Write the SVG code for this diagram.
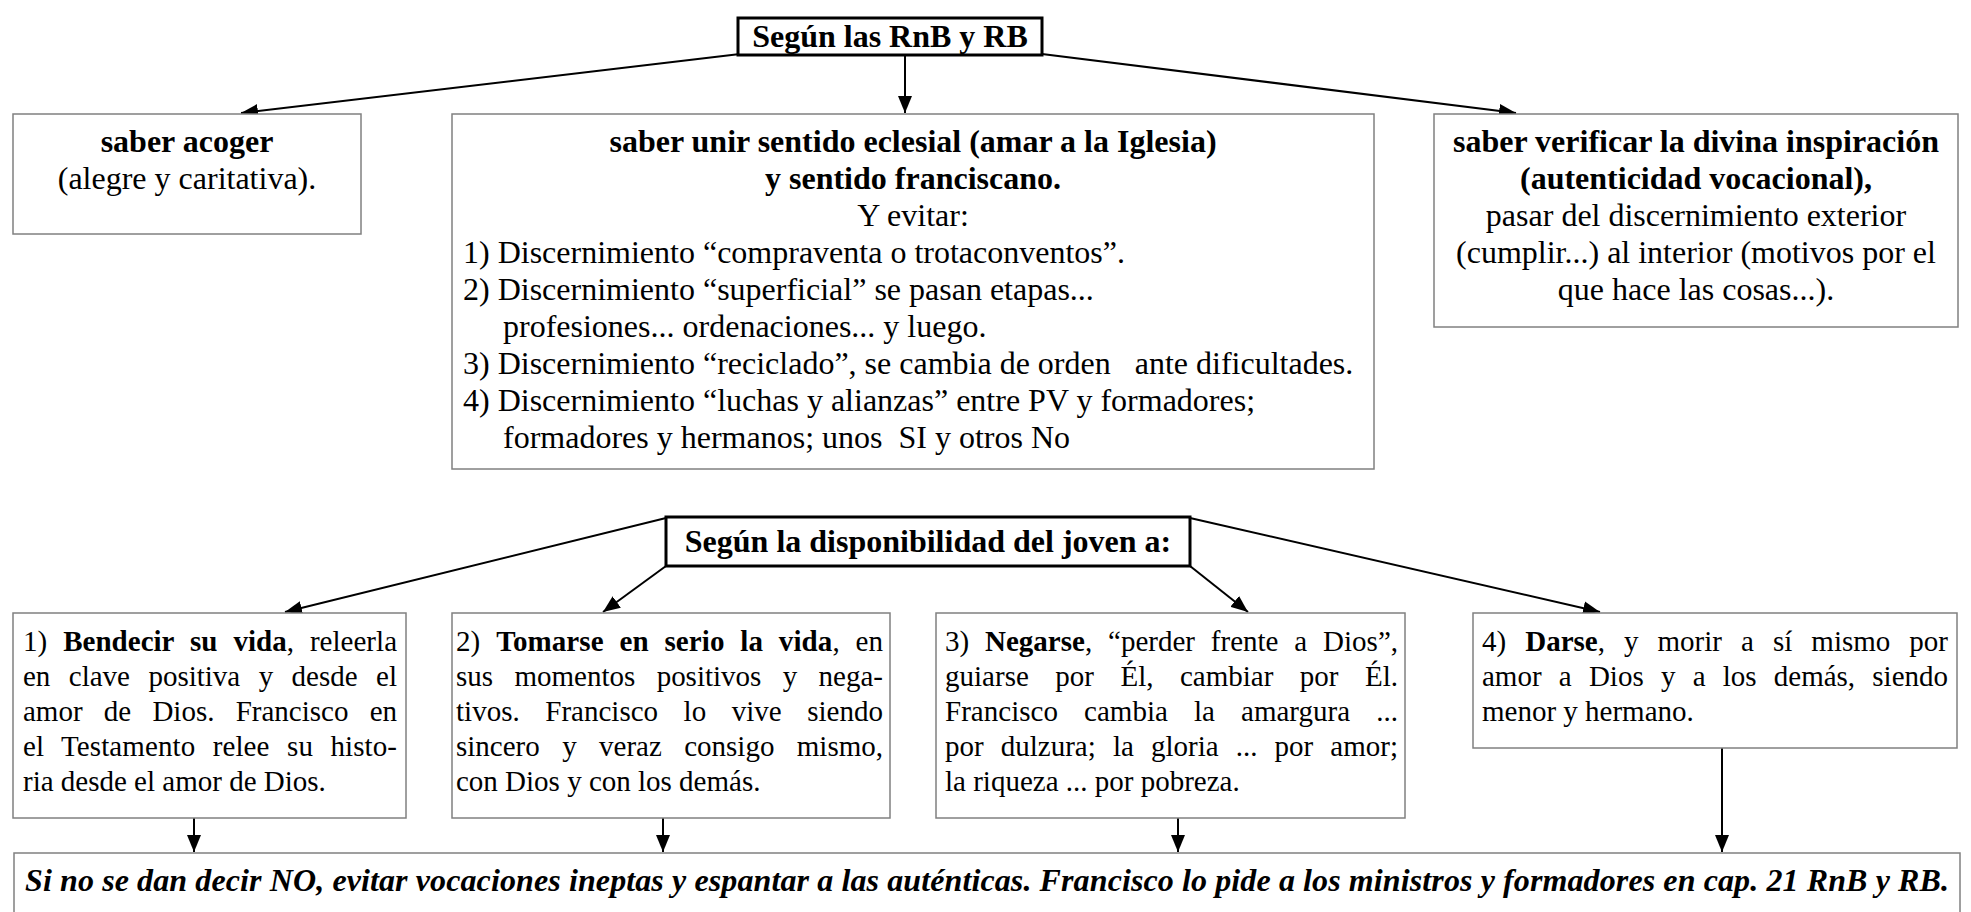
<svg xmlns="http://www.w3.org/2000/svg" width="1971" height="912" viewBox="0 0 1971 912">
<style>
text{font-family:"Liberation Serif","Times New Roman",serif;fill:#000}
.t{font-size:32px}
.s{font-size:29px}
.b{font-weight:bold}
.c{text-anchor:middle}
.box{fill:#fff;stroke:#808080;stroke-width:1.5}
.hbox{fill:#fff;stroke:#000;stroke-width:3}
.ar{stroke:#000;stroke-width:2;fill:none;marker-end:url(#ah)}
</style>
<defs>
<marker id="ah" markerUnits="userSpaceOnUse" markerWidth="18" markerHeight="14" refX="17" refY="7" orient="auto"><path d="M0,0 L17,7 L0,14 z" fill="#000"/></marker>
</defs>
<rect width="1971" height="912" fill="#fff"/>
<g id="connectors">
<line class="ar" x1="740" y1="54" x2="241" y2="113"/>
<line class="ar" x1="905" y1="55" x2="905" y2="113"/>
<line class="ar" x1="1042" y1="54" x2="1516" y2="113"/>
<line class="ar" x1="666" y1="518" x2="285" y2="612"/>
<line class="ar" x1="666" y1="566" x2="603" y2="612"/>
<line class="ar" x1="1190" y1="566" x2="1248" y2="612"/>
<line class="ar" x1="1190" y1="518" x2="1600" y2="612"/>
<line class="ar" x1="194" y1="818" x2="194" y2="852"/>
<line class="ar" x1="663" y1="818" x2="663" y2="852"/>
<line class="ar" x1="1178" y1="818" x2="1178" y2="852"/>
<line class="ar" x1="1722" y1="748" x2="1722" y2="852"/>
</g>
<g id="root">
<rect class="hbox" x="738" y="18" width="304" height="37"/>
<text class="t b c" x="890" y="47">Según las RnB y RB</text>
</g>
<g id="acoger">
<rect class="box" x="13" y="114" width="348" height="120"/>
<text class="t b c" x="187" y="152">saber acoger</text>
<text class="t c" x="187" y="189">(alegre y caritativa).</text>
</g>
<g id="eclesial">
<rect class="box" x="452" y="114" width="922" height="355"/>
<text class="t b c" x="913" y="152">saber unir sentido eclesial (amar a la Iglesia)</text>
<text class="t b c" x="913" y="189">y sentido franciscano.</text>
<text class="t c" x="913" y="226">Y evitar:</text>
<text class="t" x="463" y="263">1) Discernimiento “compraventa o trotaconventos”.</text>
<text class="t" x="463" y="300">2) Discernimiento “superficial” se pasan etapas...</text>
<text class="t" x="503" y="337">profesiones... ordenaciones... y luego.</text>
<text class="t" x="463" y="374" xml:space="preserve">3) Discernimiento “reciclado”, se cambia de orden   ante dificultades.</text>
<text class="t" x="463" y="411">4) Discernimiento “luchas y alianzas” entre PV y formadores;</text>
<text class="t" x="503" y="448" xml:space="preserve">formadores y hermanos; unos  SI y otros No</text>
</g>
<g id="verificar">
<rect class="box" x="1434" y="114" width="524" height="213"/>
<text class="t b c" x="1696" y="152">saber verificar la divina inspiración</text>
<text class="t b c" x="1696" y="189">(autenticidad vocacional),</text>
<text class="t c" x="1696" y="226">pasar del discernimiento exterior</text>
<text class="t c" x="1696" y="263">(cumplir...) al interior (motivos por el</text>
<text class="t c" x="1696" y="300">que hace las cosas...).</text>
</g>
<g id="disponibilidad">
<rect class="hbox" x="666" y="517" width="524" height="49"/>
<text class="t b c" x="928" y="552">Según la disponibilidad del joven a:</text>
</g>
<g id="bendecir">
<rect class="box" x="13" y="613" width="393" height="205"/>
<text class="s" x="23" y="651" word-spacing="8.7" textLength="374">1) <tspan class="b">Bendecir su vida</tspan>, releerla</text>
<text class="s" x="23" y="686" word-spacing="11.2" textLength="374">en clave positiva y desde el</text>
<text class="s" x="23" y="721" word-spacing="14" textLength="374">amor de Dios. Francisco en</text>
<text class="s" x="23" y="756" word-spacing="10.1" textLength="374">el Testamento relee su histo-</text>
<text class="s" x="23" y="791">ria desde el amor de Dios.</text>
</g>
<g id="tomarse">
<rect class="box" x="452" y="613" width="438" height="205"/>
<text class="s" x="456" y="651" word-spacing="8.5" textLength="427">2) <tspan class="b">Tomarse en serio la vida</tspan>, en</text>
<text class="s" x="456" y="686" word-spacing="14.1" textLength="427">sus momentos positivos y nega-</text>
<text class="s" x="456" y="721" word-spacing="18.3" textLength="427">tivos. Francisco lo vive siendo</text>
<text class="s" x="456" y="756" word-spacing="15.1" textLength="427">sincero y veraz consigo mismo,</text>
<text class="s" x="456" y="791">con Dios y con los demás.</text>
</g>
<g id="negarse">
<rect class="box" x="936" y="613" width="469" height="205"/>
<text class="s" x="945" y="651" word-spacing="8.6" textLength="453">3) <tspan class="b">Negarse</tspan>, “perder frente a Dios”,</text>
<text class="s" x="945" y="686" word-spacing="19.2" textLength="453">guiarse por Él, cambiar por Él.</text>
<text class="s" x="945" y="721" word-spacing="18.8" textLength="453">Francisco cambia la amargura ...</text>
<text class="s" x="945" y="756" word-spacing="9.9" textLength="453">por dulzura; la gloria ... por amor;</text>
<text class="s" x="945" y="791">la riqueza ... por pobreza.</text>
</g>
<g id="darse">
<rect class="box" x="1473" y="613" width="484" height="135"/>
<text class="s" x="1482" y="651" word-spacing="11.8" textLength="466">4) <tspan class="b">Darse</tspan>, y morir a sí mismo por</text>
<text class="s" x="1482" y="686" word-spacing="10" textLength="466">amor a Dios y a los demás, siendo</text>
<text class="s" x="1482" y="721">menor y hermano.</text>
</g>
<g id="conclusion">
<rect class="box" x="14" y="853" width="1946" height="70"/>
<text class="t b" x="25" y="891" font-style="italic" textLength="1924">Si no se dan decir NO, evitar vocaciones ineptas y espantar a las auténticas. Francisco lo pide a los ministros y formadores en cap. 21 RnB y RB.</text>
</g>
</svg>
